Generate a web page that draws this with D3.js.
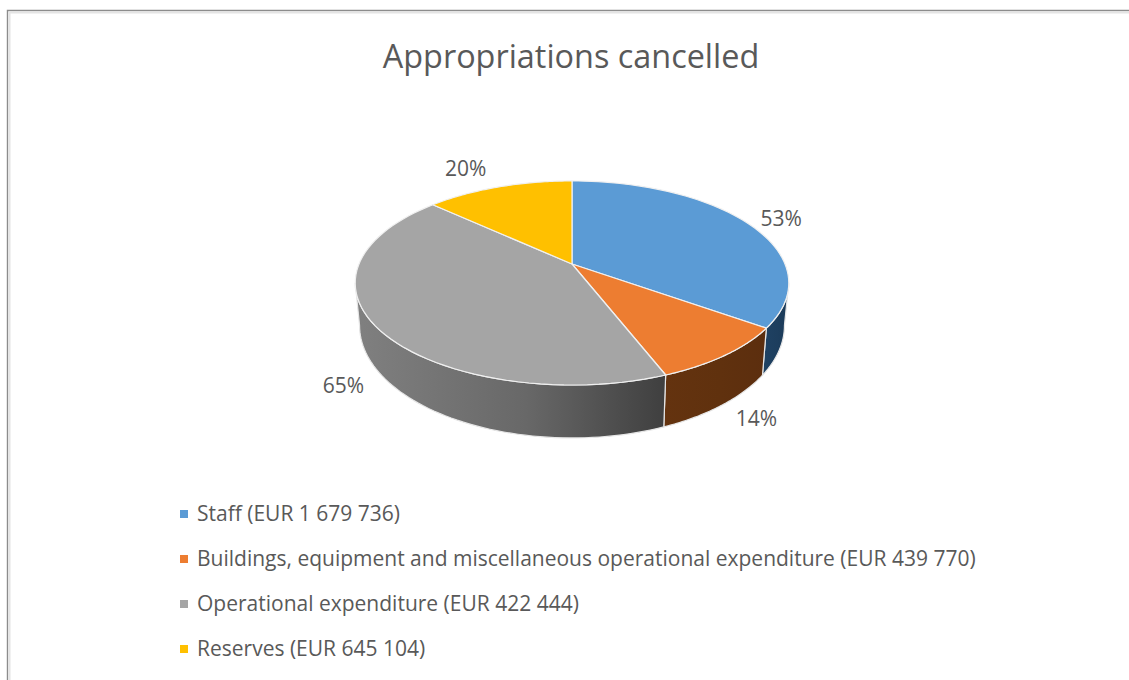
<!DOCTYPE html>
<html>
<head>
<meta charset="utf-8">
<style>
  html, body { margin: 0; padding: 0; background: #fff; }
  svg { display: block; }
  text { font-family: "Open Sans", sans-serif; fill: #595959; }
</style>
</head>
<body>
<svg id="chart"></svg>
<script src="https://cdn.jsdelivr.net/npm/d3@7"></script>
<script>
// data
const categories = ["Staff", "Buildings, equipment and miscellaneous operational expenditure", "Operational expenditure", "Reserves"];
const amounts = ["1 679 736", "439 770", "422 444", "645 104"];
const percents = [53, 14, 65, 20];
const colors = ["#5b9bd5", "#ed7d31", "#a5a5a5", "#ffc000"];
const wallLeft = ["#1f4263", "#64330f", "#808080", "#7f6000"];
const wallMid = ["#1d3e5e", "#60310e", "#686868", "#7f6000"];
const wallRight = ["#1b3a58", "#5c2e0e", "#3f3f3f", "#7f6000"];
const titleText = "Appropriations cancelled";

const w = 1129, h = 680;

// pie is a tilted disc, so the hub sits above the middle of the ellipse
const hub = { x: 572, y: 264 };
const persp = -0.186;     // foreshortening, back of the disc is smaller
const rx = 213, ry = 98.5;
const wallBase = 40.5, wallGrow = 0.103, wallShrink = 0.98;

const svg = d3.select("#chart").attr("width", w).attr("height", h);
const defs = svg.append("defs");

const color = d3.scaleOrdinal().domain(categories).range(colors);

const pieData = d3.pie().sort(null).value(d => d)(percents);

// angle (0 at top, clockwise) and radius to the top surface of the pie
function topPoint(a, r = 1) {
    const u = Math.sin(a) * r, v = -Math.cos(a) * r;
    const d = 1 + persp * v;
    return [hub.x + rx * u / d, hub.y + ry * v / d];
}

// same point on the lower rim
function basePoint(a) {
    const p = topPoint(a);
    const off = p[1] - hub.y;
    return [hub.x + (p[0] - hub.x) * wallShrink, p[1] + wallBase + wallGrow * off];
}

const line = d3.line();

function arcAngles(a0, a1) {
    return d3.range(0, 61).map(i => a0 + (a1 - a0) * i / 60);
}

// frame round the picture
svg.append("path").attr("d", line([[7.5, h], [7.5, 10.5], [w, 10.5]]))
    .attr("fill", "none").attr("stroke", "#8c8c8c").attr("stroke-width", 1.4);
svg.append("path").attr("d", line([[9.5, h], [9.5, 12.5], [w, 12.5]]))
    .attr("fill", "none").attr("stroke", "#e4e4e4").attr("stroke-width", 2);

// only the part of the rim facing us has a wall
const visFrom = Math.acos(persp), visTo = 2 * Math.PI - visFrom;

pieData.forEach((s, i) => {
    const a0 = Math.max(s.startAngle, visFrom), a1 = Math.min(s.endAngle, visTo);
    if (a1 <= a0) return;
    const angles = arcAngles(a0, a1);
    const topArc = angles.map(a => topPoint(a));
    const baseArc = angles.map(a => basePoint(a));
    const xs = topArc.concat(baseArc).map(p => p[0]);

    const grad = defs.append("linearGradient")
        .attr("id", "wall" + i)
        .attr("gradientUnits", "userSpaceOnUse")
        .attr("x1", d3.min(xs)).attr("x2", d3.max(xs))
        .attr("y1", 0).attr("y2", 0);
    grad.append("stop").attr("offset", 0).attr("stop-color", wallLeft[i]);
    grad.append("stop").attr("offset", 0.55).attr("stop-color", wallMid[i]);
    grad.append("stop").attr("offset", 1).attr("stop-color", wallRight[i]);

    svg.append("path")
        .attr("d", line(topArc.concat(baseArc.reverse())) + "Z")
        .attr("fill", `url(#wall${i})`)
        .attr("stroke", "#e6e6e6")
        .attr("stroke-width", 1.2)
        .attr("stroke-linejoin", "round");
});

// top faces
pieData.forEach((s, i) => {
    const pts = arcAngles(s.startAngle, s.endAngle).map(a => topPoint(a));
    svg.append("path")
        .attr("d", line([[hub.x, hub.y]].concat(pts)) + "Z")
        .attr("fill", color(categories[i]))
        .attr("stroke", "#f0f0f0")
        .attr("stroke-width", 1.2)
        .attr("stroke-linejoin", "round");
});

// data labels sit outside the rim, moved by hand like in the original
const labelR = 1.2;
const nudge = [[3, 4], [-6, -4], [13, 0], [-21, -5]];
pieData.forEach((s, i) => {
    const mid = (s.startAngle + s.endAngle) / 2;
    const p = topPoint(mid, labelR);
    const front = Math.cos(mid) < 0;
    svg.append("text")
        .attr("x", p[0] + nudge[i][0])
        .attr("y", p[1] + nudge[i][1] + (front ? 45 : 0))
        .attr("dy", "0.35em")
        .attr("text-anchor", "middle")
        .attr("font-size", 21)
        .text(s.data + "%");
});

svg.append("text")
    .attr("x", 571)
    .attr("y", 68)
    .attr("text-anchor", "middle")
    .attr("font-size", 32.4)
    .text(titleText);

// legend
const legendY = d3.scalePoint().domain(categories).range([514, 649]);
const legend = svg.append("g").selectAll("g").data(categories).join("g")
    .attr("transform", d => `translate(180,${legendY(d)})`);
legend.append("rect")
    .attr("y", -4).attr("width", 8).attr("height", 8)
    .attr("fill", d => color(d));
legend.append("text")
    .attr("x", 17)
    .attr("dy", "0.35em")
    .attr("font-size", 21)
    .text((d, i) => `${d} (EUR ${amounts[i]})`);
</script>
</body>
</html>
